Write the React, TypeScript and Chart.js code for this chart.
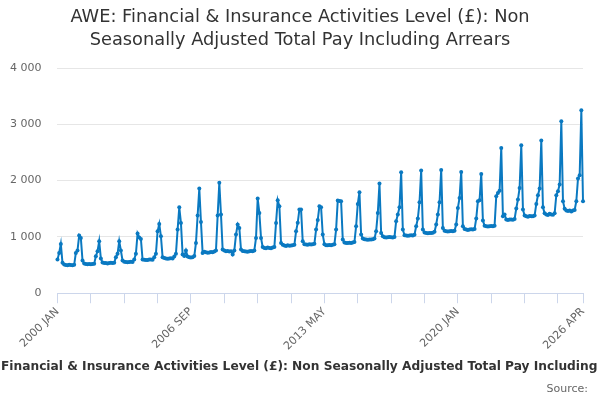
import React, { useEffect, useRef } from 'react';
import { Chart, registerables } from 'chart.js';

Chart.register(...registerables);

const TITLE = [
  'AWE: Financial & Insurance Activities Level (£): Non',
  'Seasonally Adjusted Total Pay Including Arrears',
];
const SERIES_NAME =
  'AWE: Financial & Insurance Activities Level (£): Non Seasonally Adjusted Total Pay Including Arrears';
const SERIES_PREFIX = 'AWE: ';
const SERIES_VISIBLE =
  'Financial & Insurance Activities Level (£): Non Seasonally Adjusted Total Pay Including';
const SOURCE = 'Source:';

const MONTHS = ['JAN', 'FEB', 'MAR', 'APR', 'MAY', 'JUN', 'JUL', 'AUG', 'SEP', 'OCT', 'NOV', 'DEC'];
const START_YEAR = 2000;

const y2000 = [600, 716, 876, 540, 510, 500, 497, 505, 500, 495, 505, 716];
const y2001 = [760, 1025, 982, 580, 530, 520, 515, 520, 515, 520, 525, 657];
const y2002 = [746, 924, 616, 545, 538, 535, 530, 538, 540, 535, 540, 640];
const y2003 = [700, 924, 758, 580, 560, 555, 550, 556, 560, 555, 600, 700];
const y2004 = [1060, 990, 965, 598, 595, 590, 592, 600, 598, 595, 640, 700];
const y2005 = [1100, 1231, 1012, 640, 625, 616, 610, 615, 620, 616, 650, 700];
const y2006 = [1130, 1527, 1249, 687, 660, 758, 650, 640, 635, 640, 660, 894];
const y2007 = [1380, 1860, 1266, 716, 735, 728, 720, 725, 730, 728, 740, 760];
const y2008 = [1380, 1960, 1397, 776, 760, 746, 750, 740, 745, 687, 760, 1042];
const y2009 = [1220, 1160, 776, 750, 746, 740, 735, 745, 750, 746, 760, 982];
const y2010 = [1682, 1426, 982, 820, 805, 800, 810, 805, 800, 810, 820, 1249];
const y2011 = [1652, 1545, 894, 860, 847, 840, 850, 845, 847, 850, 860, 1100];
const y2012 = [1250, 1487, 1487, 924, 870, 865, 860, 868, 865, 870, 880, 1130];
const y2013 = [1300, 1545, 1527, 1042, 870, 853, 850, 855, 853, 860, 870, 1130];
const y2014 = [1646, 1640, 1634, 953, 900, 894, 890, 895, 894, 900, 910, 1190];
const y2015 = [1586, 1794, 1042, 970, 960, 953, 950, 955, 953, 960, 970, 1100];
const y2016 = [1426, 1948, 1071, 1010, 995, 990, 995, 1000, 995, 990, 1000, 1279];
const y2017 = [1400, 1527, 2149, 1130, 1030, 1025, 1020, 1025, 1030, 1025, 1040, 1190];
const y2018 = [1327, 1616, 2179, 1130, 1080, 1071, 1065, 1070, 1071, 1075, 1090, 1220];
const y2019 = [1397, 1616, 2190, 1160, 1110, 1101, 1095, 1100, 1105, 1100, 1110, 1220];
const y2020 = [1515, 1693, 2155, 1190, 1140, 1131, 1125, 1130, 1135, 1131, 1140, 1327];
const y2021 = [1634, 1650, 2119, 1291, 1200, 1190, 1185, 1190, 1195, 1190, 1200, 1723];
const y2022 = [1782, 1820, 2581, 1368, 1398, 1309, 1300, 1310, 1309, 1305, 1320, 1504];
const y2023 = [1664, 1870, 2629, 1487, 1380, 1368, 1360, 1370, 1368, 1365, 1380, 1586];
const y2024 = [1741, 1860, 2712, 1527, 1420, 1400, 1390, 1410, 1400, 1395, 1420, 1741];
const y2025 = [1812, 1930, 3055, 1634, 1500, 1469, 1460, 1470, 1450, 1469, 1480, 1634];
const y2026 = [2037, 2096, 3250, 1634];

const values = [
  ...y2000, ...y2001, ...y2002, ...y2003, ...y2004, ...y2005, ...y2006, ...y2007, ...y2008,
  ...y2009, ...y2010, ...y2011, ...y2012, ...y2013, ...y2014, ...y2015, ...y2016, ...y2017,
  ...y2018, ...y2019, ...y2020, ...y2021, ...y2022, ...y2023, ...y2024, ...y2025, ...y2026,
];

const categories = values.map(
  (_, i) => `${START_YEAR + Math.floor(i / 12)} ${MONTHS[i % 12]}`
);

const X_TICK_LABELS = ['2000 JAN', '2006 SEP', '2013 MAY', '2020 JAN', '2026 APR'];
const TICK_MARK_EVERY = 20;
const Y_MIN = 0;
const Y_MAX = 4000;
const Y_STEP = 1000;

const LINE_COLOR = '#0a79c1';
const AXIS_COLOR = '#ccd6eb';
const GRID_COLOR = '#e6e6e6';
const FONT = '"DejaVu Sans", sans-serif';

const fmt = (v: number) => String(v).replace(/\B(?=(\d{3})+(?!\d))/g, ' ');

const textPlugin = {
  id: 'textPlugin',
  afterDraw(chart: any) {
    const { ctx, width, height } = chart;
    ctx.save();
    ctx.textBaseline = 'middle';
    // title
    ctx.font = `17.8px ${FONT}`;
    ctx.fillStyle = '#333333';
    ctx.textAlign = 'center';
    ctx.fillText(TITLE[0], width / 2, 17);
    ctx.fillText(TITLE[1], width / 2, 40);
    // series name (legend), overflowing the canvas on both sides
    ctx.font = `bold 12px ${FONT}`;
    const base = ctx.measureText(SERIES_VISIBLE).width;
    const size = (12 * 597) / base;
    ctx.font = `bold ${size}px ${FONT}`;
    const prefix = ctx.measureText(SERIES_PREFIX).width;
    ctx.fillStyle = '#333333';
    ctx.textAlign = 'left';
    ctx.fillText(SERIES_NAME, 1 - prefix, height - 33);
    // source
    ctx.font = `11px ${FONT}`;
    ctx.fillStyle = '#666666';
    ctx.textAlign = 'right';
    ctx.fillText(SOURCE, width - 12, height - 11);
    ctx.restore();
  },
};

export default function App() {
  const ref = useRef<HTMLCanvasElement | null>(null);

  useEffect(() => {
    if (!ref.current) return;
    const last = categories.length - 1;
    const chart = new Chart(ref.current, {
      type: 'line',
      data: {
        labels: categories,
        datasets: [
          {
            label: SERIES_NAME,
            data: values,
            borderColor: LINE_COLOR,
            backgroundColor: LINE_COLOR,
            borderWidth: 2,
            pointRadius: 2,
            pointHoverRadius: 3,
            pointBorderWidth: 0,
            tension: 0,
          },
        ],
      },
      options: {
        responsive: false,
        animation: false,
        layout: { padding: { left: -6, right: 17, top: 68, bottom: 45 } },
        plugins: {
          legend: { display: false },
          tooltip: { enabled: false },
          title: { display: false },
        },
        scales: {
          x: {
            type: 'category',
            offset: false,
            border: { display: true, color: AXIS_COLOR, width: 1 },
            grid: {
              drawOnChartArea: false,
              drawTicks: true,
              tickLength: 10,
              color: (c: any) =>
                c.index % TICK_MARK_EVERY === 0 || c.index === last ? AXIS_COLOR : 'rgba(0,0,0,0)',
            },
            ticks: {
              autoSkip: false,
              maxRotation: 45,
              minRotation: 45,
              padding: 2,
              color: '#666666',
              font: { family: FONT, size: 11 },
              callback: (_v: any, i: number) =>
                X_TICK_LABELS.includes(categories[i]) ? categories[i] : '',
            },
          },
          y: {
            min: Y_MIN,
            max: Y_MAX,
            border: { display: false },
            grid: { color: GRID_COLOR, drawTicks: false },
            ticks: {
              stepSize: Y_STEP,
              padding: 16,
              color: '#666666',
              font: { family: FONT, size: 11 },
              callback: (v: any) => fmt(Number(v)),
            },
          },
        },
      },
      plugins: [textPlugin],
    });
    return () => chart.destroy();
  }, []);

  return (
    <div style={{ position: 'fixed', left: 0, top: 0, width: 600, height: 400, background: '#fff' }}>
      <canvas ref={ref} width={600} height={400} style={{ display: 'block' }} />
    </div>
  );
}
